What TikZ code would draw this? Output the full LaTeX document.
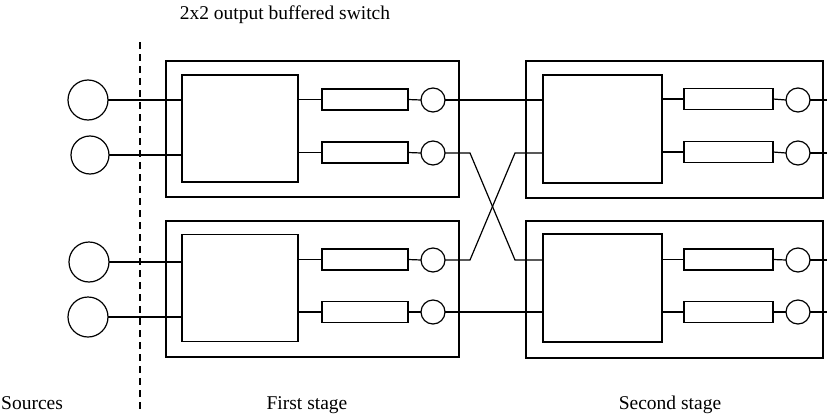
\documentclass[tikz,border=0pt]{standalone}
\usepackage{fontspec}
\setmainfont{Liberation Serif}
\begin{document}
\begin{tikzpicture}[x=1pt,y=-1pt,
  ln/.style={line width=1.2pt},
  src/.style={circle,draw,line width=1.2pt,minimum size=40pt,inner sep=0pt,outer sep=0pt},
  outc/.style={circle,draw,line width=1.2pt,minimum size=24pt,inner sep=0pt,outer sep=0pt},
  buf/.style={rectangle,draw,line width=1.2pt,minimum height=21pt,inner sep=0pt,outer sep=0pt},
  sw/.style={rectangle,draw,line width=1.2pt,inner sep=0pt,outer sep=0pt},
  lbl/.style={font=\fontsize{19.5}{23}\selectfont,inner sep=0pt}
]
\useasboundingbox (0,0) rectangle (827,415);

% titles
\node[lbl] (title) at (285,15) {2x2 output buffered switch};
\node[lbl,anchor=base west] (lsrc) at (1,409) {Sources};
\node[lbl,anchor=base] (lfirst) at (307,409) {First stage};
\node[lbl,anchor=base] (lsecond) at (670,409) {Second stage};

% dashed separator
\coordinate (dtop) at (140,42);
\coordinate (dbot) at (140,413);
\draw[ln,dash pattern=on 7pt off 5pt] (dtop) -- (dbot);

% outer boxes
\node[sw,minimum width=293pt,minimum height=136pt] (O1) at (312.5,129) {};
\node[sw,minimum width=293pt,minimum height=136pt] (O2) at (312.5,289) {};
\node[sw,minimum width=297pt,minimum height=137pt] (O3) at (674.5,129.5) {};
\node[sw,minimum width=297pt,minimum height=137pt] (O4) at (674.5,289.5) {};

% inner switch fabrics
\node[sw,minimum width=116pt,minimum height=107pt] (in1) at (240,128.5) {};
\node[sw,minimum width=116pt,minimum height=107pt] (in2) at (240,288) {};
\node[sw,minimum width=119pt,minimum height=108pt] (in3) at (602.5,129) {};
\node[sw,minimum width=119pt,minimum height=108pt] (in4) at (602.5,288) {};

% sources
\node[src] (s1) at (88,100) {};
\node[src,minimum size=38pt] (s2) at (90,155) {};
\node[src] (s3) at (89,262) {};
\node[src] (s4) at (88,317) {};

% buffers stage 1
\node[buf,minimum width=86pt] (b11) at (365,99.5) {};
\node[buf,minimum width=86pt] (b12) at (365,152.5) {};
\node[buf,minimum width=86pt] (b21) at (365,259.5) {};
\node[buf,minimum width=86pt] (b22) at (365,312) {};
% buffers stage 2
\node[buf,minimum width=89pt] (b31) at (728.5,99) {};
\node[buf,minimum width=89pt] (b32) at (728.5,152) {};
\node[buf,minimum width=89pt] (b41) at (728.5,259.5) {};
\node[buf,minimum width=89pt] (b42) at (728.5,312) {};

% output ports
\node[outc] (o11) at (433,100) {};
\node[outc] (o12) at (433,153) {};
\node[outc] (o21) at (433,260) {};
\node[outc] (o22) at (433,312) {};
\node[outc] (o31) at (798,100) {};
\node[outc] (o32) at (798,153) {};
\node[outc] (o41) at (798,260) {};
\node[outc] (o42) at (798,312) {};

% helper coordinates
\coordinate (k1) at (470,0);
\coordinate (k2) at (515,0);
\coordinate (edge) at (827,0);

% sources to first stage
\draw[ln] (s1.east) -- (s1 -| in1.west);
\draw[ln] (s2.east) -- (s2 -| in1.west);
\draw[ln] (s3.east) -- (s3 -| in2.west);
\draw[ln] (s4.east) -- (s4 -| in2.west);

% inner to buffers to ports
\foreach \i/\b/\o in {in1/b11/o11,in1/b12/o12,in2/b21/o21,in2/b22/o22,in3/b31/o31,in3/b32/o32,in4/b41/o41,in4/b42/o42}{
  \draw[ln] (\b -| \i.east) -- (\b.west);
  \draw[ln] (\b.east) -- (\o.west);
}

% stage 1 to stage 2
\draw[ln] (o11.east) -- (o11 -| in3.west);
\draw[ln] (o22.east) -- (o22 -| in4.west);
\draw[ln] (o12.east) -- (o12 -| k1) -- (o21 -| k2) -- (o21 -| in4.west);
\draw[ln] (o21.east) -- (o21 -| k1) -- (o12 -| k2) -- (o12 -| in3.west);

% output stubs
\draw[ln] (o31.east) -- (o31 -| edge);
\draw[ln] (o32.east) -- (o32 -| edge);
\draw[ln] (o41.east) -- (o41 -| edge);
\draw[ln] (o42.east) -- (o42 -| edge);
\end{tikzpicture}
\end{document}
